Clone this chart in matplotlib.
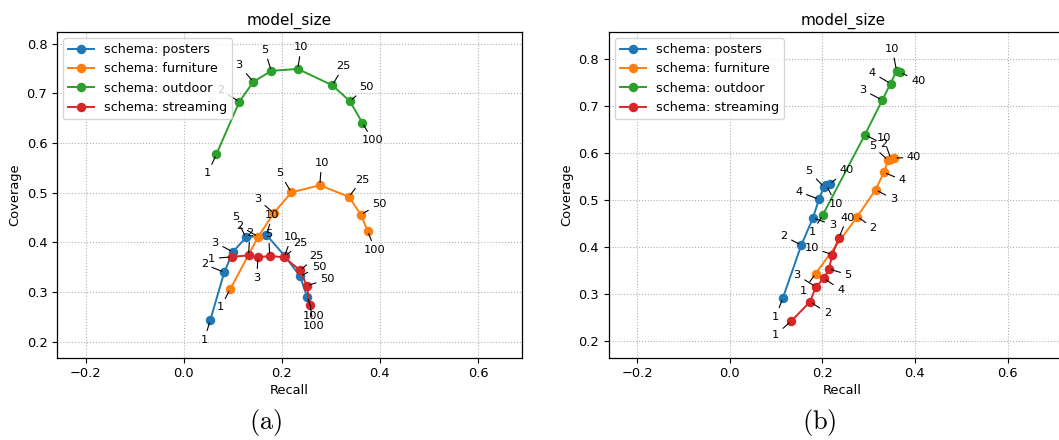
import matplotlib
matplotlib.use('Agg')
import matplotlib.pyplot as plt

# ---------------- data (panel a) ----------------
sizes_a = ['1', '2', '3', '5', '10', '25', '50', '100']
posters_a_recall = [0.0542, 0.0827, 0.1003, 0.1268, 0.1688, 0.2068, 0.2373, 0.2515]
posters_a_cov = [0.244, 0.340, 0.381, 0.410, 0.415, 0.372, 0.332, 0.291]
furniture_a_recall = [0.0949, 0.1519, 0.1837, 0.2194, 0.2775, 0.337, 0.3612, 0.375]
furniture_a_cov = [0.306, 0.4115, 0.459, 0.5006, 0.515, 0.4917, 0.456, 0.423]
outdoor_a_recall = [0.0664, 0.1135, 0.142, 0.1785, 0.2325, 0.303, 0.339, 0.364]
outdoor_a_cov = [0.577, 0.683, 0.723, 0.745, 0.749, 0.716, 0.684, 0.641]
streaming_a_recall = [0.0983, 0.1322, 0.1512, 0.1756, 0.2047, 0.2373, 0.2508, 0.2576]
streaming_a_cov = [0.371, 0.374, 0.370, 0.373, 0.370, 0.344, 0.313, 0.274]

# ---------------- data (panel b) ----------------
sizes_b = ['1', '2', '3', '4', '5', '10', '40']
outdoor_b_sizes = ['1', '2', '3', '4', '10', '40']
posters_b_recall = [0.1151, 0.1547, 0.1799, 0.1928, 0.2036, 0.209, 0.2158]
posters_b_cov = [0.2918, 0.4038, 0.4617, 0.5014, 0.5278, 0.531, 0.5336]
furniture_b_recall = [0.1856, 0.2755, 0.3151, 0.3331, 0.342, 0.348, 0.355]
furniture_b_cov = [0.3431, 0.4646, 0.5217, 0.5588, 0.585, 0.588, 0.589]
outdoor_b_recall = [0.2007, 0.2921, 0.3295, 0.3475, 0.3604, 0.3683]
outdoor_b_cov = [0.4675, 0.639, 0.7126, 0.748, 0.7755, 0.7718]
streaming_b_recall = [0.1331, 0.1734, 0.1863, 0.2036, 0.2144, 0.2216, 0.236]
streaming_b_cov = [0.2419, 0.2831, 0.3149, 0.333, 0.3532, 0.3836, 0.4197]

schemas = ['posters', 'furniture', 'outdoor', 'streaming']
colors = ['#1f77b4', '#ff7f0e', '#2ca02c', '#d62728']

# label offsets (pixels) -- layout only
off_a = {
    'posters': [(-6, -19.7), (-20, 8), (-17.7, 9.3), (-10, 20), (6, 20), (15.7, 13.7), (19, 9.7), (7, -19)],
    'furniture': [(-9.9, -18.3), (-18.3, 10.7), (-16.3, 14), (-11.2, 19), (1.7, 22), (12.9, 17.3), (18.7, 10.5), (7.5, -18.7)],
    'outdoor': [(-8.5, -19), (-18.7, 11.6), (-14.3, 16.6), (-6.5, 21), (3.4, 21.4), (11.2, 19), (16, 14), (10.5, -17.7)],
    'streaming': [(-20.3, -1.7), (1.3, 22.3), (-1, -20.3), (-1.3, 21.7), (7.3, 20), (16.7, 14), (20.7, 6.3), (3.3, -20.7)],
}
off_b = {
    'posters': [(-7.3, -19), (-17.3, 9), (19.3, -6.7), (-20, 7.7), (-15, 15.7), (9.3, -18.3), (16.7, 13.7)],
    'furniture': [(-12.3, -17), (16, -11.3), (17.7, -9.3), (18.3, -7.7), (-15.7, 14), (-7.3, 20.3), (20, 1)],
    'outdoor': [(-10.3, -17), (19, -9.7), (-19.3, 10.3), (-18.3, 10.7), (-4.3, 21.7), (18, -8.7)],
    'streaming': [(-15.7, -13.7), (17.3, -11), (-18.7, 11.7), (16.7, -11.3), (19.3, -6), (-20.7, 7), (8.3, 20)],
}

panel_a = {
    'posters': (sizes_a, posters_a_recall, posters_a_cov),
    'furniture': (sizes_a, furniture_a_recall, furniture_a_cov),
    'outdoor': (sizes_a, outdoor_a_recall, outdoor_a_cov),
    'streaming': (sizes_a, streaming_a_recall, streaming_a_cov),
}
panel_b = {
    'posters': (sizes_b, posters_b_recall, posters_b_cov),
    'furniture': (sizes_b, furniture_b_recall, furniture_b_cov),
    'outdoor': (outdoor_b_sizes, outdoor_b_recall, outdoor_b_cov),
    'streaming': (sizes_b, streaming_b_recall, streaming_b_cov),
}

plt.rcParams['mathtext.fontset'] = 'cm'
plt.rcParams['font.family'] = ['DejaVu Sans']

W, H = 1059, 440
fig = plt.figure(figsize=(W / 100, H / 100), dpi=100)

ax_a = fig.add_axes([56.7 / W, 1 - 357.8 / H, (521.6 - 56.7) / W, (357.8 - 31.6) / H])
ax_b = fig.add_axes([608.5 / W, 1 - 357.8 / H, 468.5 / W, (357.8 - 31.6) / H])


def draw(ax, panel, offs, xlim, ylim):
    for name, col in zip(schemas, colors):
        labels, xs, ys = panel[name]
        ax.plot(xs, ys, '-o', color=col, lw=1.4, ms=5.8, label='schema: ' + name, zorder=2)
    for name in schemas:
        labels, xs, ys = panel[name]
        for lab, x, y, (dx, dy) in zip(labels, xs, ys, offs[name]):
            ax.annotate(lab, (x, y), xytext=(dx, dy), textcoords='offset pixels',
                        ha='center', va='center', fontsize=8.2,
                        arrowprops=dict(arrowstyle='-', color='black', lw=0.8,
                                        shrinkA=1, shrinkB=2), zorder=3)
    ax.set_xlim(*xlim)
    ax.set_ylim(*ylim)
    ax.set_xticks([-0.2, 0.0, 0.2, 0.4, 0.6])
    ax.set_yticks([0.2, 0.3, 0.4, 0.5, 0.6, 0.7, 0.8])
    ax.grid(True, linestyle=':', color='#b0b0b0', linewidth=0.8, zorder=0)
    ax.set_axisbelow(True)
    ax.tick_params(labelsize=9.4, length=3.3, width=0.8)
    for s in ax.spines.values():
        s.set_linewidth(0.9)
    ax.set_xlabel('Recall', fontsize=9.4, labelpad=3)
    ax.set_ylabel('Coverage', fontsize=9.4, labelpad=4)
    ax.set_title('model_size', fontsize=11, pad=5)
    ax.legend(loc='upper left', fontsize=9.2)


draw(ax_a, panel_a, off_a, (-0.259, 0.689), (0.168, 0.824))
draw(ax_b, panel_b, off_b, (-0.2616, 0.75), (0.1638, 0.8586))

fig.text(266 / W, 1 - 422 / H, r'$\mathrm{(a)}$', ha='center', va='center', fontsize=19)
fig.text(819 / W, 1 - 422 / H, r'$\mathrm{(b)}$', ha='center', va='center', fontsize=19)

fig.savefig('out.png', dpi=100)
